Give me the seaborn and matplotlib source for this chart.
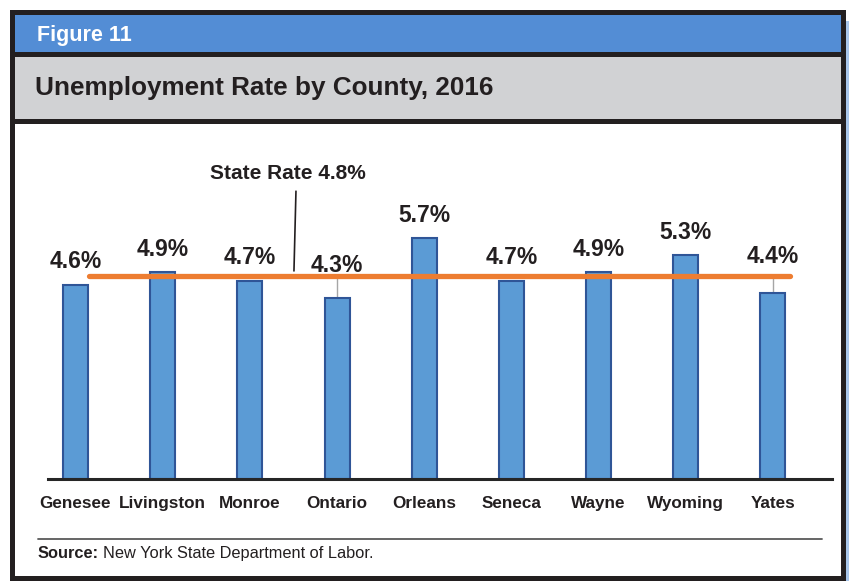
import matplotlib

matplotlib.use("Agg")
import matplotlib.pyplot as plt
import numpy as np
import pandas as pd
import seaborn as sns
from matplotlib.patches import Rectangle

sns.set_theme(style="white")
plt.rcParams["font.family"] = ["Liberation Sans", "DejaVu Sans"]

# data
counties = ["Genesee", "Livingston", "Monroe", "Ontario", "Orleans",
            "Seneca", "Wayne", "Wyoming", "Yates"]
rates = [4.6, 4.9, 4.7, 4.3, 5.7, 4.7, 4.9, 5.3, 4.4]
state_rate = 4.8

# labels that sit above the state line, joined to their bar by a grey leader
raised_labels = {"Ontario": 0.77, "Yates": 0.88}

TEXT = "#231F20"
BAR_FILL = "#5B9BD5"
BAR_EDGE = "#2F5597"
ORANGE = "#ED7D31"

df = pd.DataFrame({"county": counties, "rate": rates})

fig = plt.figure(figsize=(8.49, 5.81), dpi=100)

# background frame drawn in pixel coordinates
bg = fig.add_axes([0, 0, 1, 1])
bg.set_xlim(0, 849)
bg.set_ylim(581, 0)
bg.axis("off")
bg.add_patch(Rectangle((846, 21), 3, 560, color="#A9C6EA", lw=0))
bg.add_patch(Rectangle((10, 10), 836, 571, color="#231F20", lw=0))
bg.add_patch(Rectangle((15, 124), 826, 452, color="white", lw=0))
bg.add_patch(Rectangle((15, 15), 826, 37, color="#538DD5", lw=0))
bg.add_patch(Rectangle((15, 57), 826, 62, color="#D1D2D4", lw=0))
bg.text(37, 35, "Figure 11", color="white", fontsize=15.5, fontweight="bold",
        va="center", ha="left")
bg.text(35, 88, "Unemployment Rate by County, 2016", color=TEXT, fontsize=18.8,
        fontweight="bold", va="center", ha="left")
bg.plot([38, 822], [539, 539], color="#595959", lw=1.3)
src = bg.text(38, 558, "Source:", color=TEXT, fontsize=11.8, fontweight="bold",
              va="baseline", ha="left")
src_width = src.get_window_extent(renderer=fig.canvas.get_renderer()).width
bg.text(38 + src_width + 4, 558, "New York State Department of Labor.",
        va="baseline", ha="left", color=TEXT, fontsize=11.8)

# main chart
ax = fig.add_axes([48 / 849, 102 / 581, 784 / 849, 295.4 / 581])
ax.patch.set_alpha(0)
sns.barplot(data=df, x="county", y="rate", ax=ax, color=BAR_FILL, saturation=1,
            edgecolor=BAR_EDGE, linewidth=1.5, width=0.287, zorder=2)

ax.set_xlim(-0.315, 8.677)
ax.set_ylim(0, 7)

positions = np.arange(len(counties))
for pos, county, rate in zip(positions, counties, rates):
    if county in raised_labels:
        ax.plot([pos, pos], [rate, state_rate], color="#A6A6A6", lw=1, zorder=1)
        ax.text(pos, rate + raised_labels[county], f"{rate:.1f}%", ha="center",
                va="center", fontsize=16.5, fontweight="bold", color=TEXT)
    else:
        ax.text(pos, rate + 0.545, f"{rate:.1f}%", ha="center", va="center",
                fontsize=16.5, fontweight="bold", color=TEXT)

ax.plot([0.155, 8.195], [state_rate, state_rate], color=ORANGE, lw=3.8,
        solid_capstyle="round", zorder=3)
ax.text(2.437, 7.23, f"State Rate {state_rate}%", ha="center", va="center",
        fontsize=15, fontweight="bold", color=TEXT, clip_on=False)
ax.plot([2.529, 2.506], [6.82, state_rate + 0.13], color=TEXT, lw=1.2,
        clip_on=False, zorder=4)

for side in ["top", "right", "left"]:
    ax.spines[side].set_visible(False)
ax.spines["bottom"].set_color("#262626")
ax.spines["bottom"].set_linewidth(2.2)
ax.set_yticks([])
ax.set_xlabel("")
ax.set_ylabel("")
ax.tick_params(axis="x", length=0, pad=12)
for label in ax.get_xticklabels():
    label.set_fontsize(12.3)
    label.set_fontweight("bold")
    label.set_color(TEXT)

fig.savefig("out.png", dpi=100)
